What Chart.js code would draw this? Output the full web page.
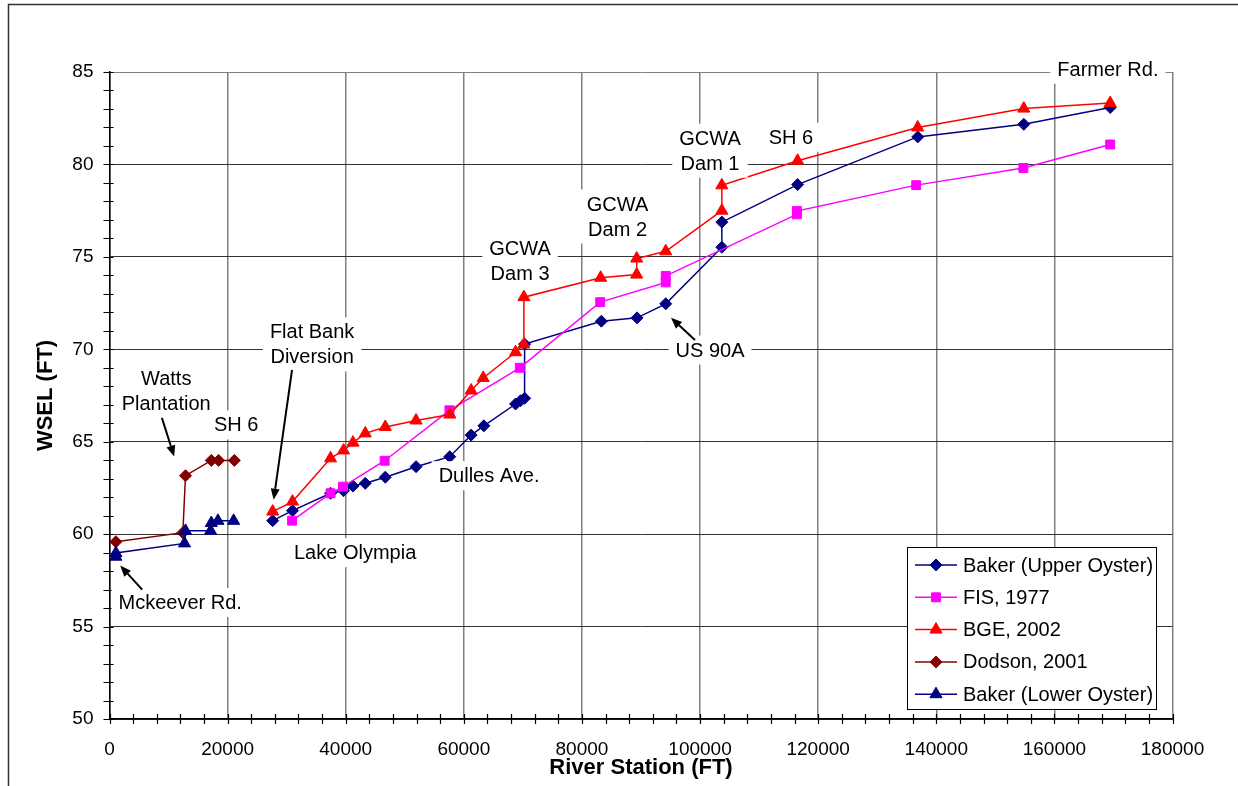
<!DOCTYPE html>
<html>
<head>
<meta charset="utf-8">
<script src="https://cdn.jsdelivr.net/npm/chart.js@4.4.0/dist/chart.umd.min.js"></script>
<style>
  html, body { margin: 0; padding: 0; background: #fff; }
  canvas { display: block; }
</style>
</head>
<body>
<canvas id="wsel" width="1238" height="786"></canvas>
<script>
// tick labels
const xTicks = [0, 20000, 40000, 60000, 80000, 100000, 120000, 140000, 160000, 180000];
const yTicks = [50, 55, 60, 65, 70, 75, 80, 85];

// Baker (Upper Oyster)
const bakerUpperX = [27630, 30990, 37430, 39630, 41230, 43310, 46700, 51910, 57610, 61240, 63390, 68760, 69610, 70290, 70290, 83290, 89330, 94190, 103690, 103690, 116520, 136860, 154820, 169450];
const bakerUpperY = [60.73, 61.27, 62.21, 62.35, 62.6, 62.75, 63.08, 63.65, 64.19, 65.36, 65.86, 67.04, 67.22, 67.35, 70.28, 71.52, 71.7, 72.46, 75.52, 76.88, 78.91, 81.49, 82.17, 83.08];

// FIS, 1977
const fisX = [30920, 37430, 39540, 46590, 57560, 69480, 83090, 94190, 94190, 116390, 116390, 136600, 154750, 169450];
const fisY = [60.73, 62.21, 62.57, 63.97, 66.7, 69.0, 72.55, 73.62, 73.97, 77.3, 77.48, 78.88, 79.81, 81.08];

// BGE, 2002
const bgeX = [27630, 30990, 37430, 39630, 41230, 43310, 46700, 51910, 57640, 61240, 63280, 68760, 70170, 70170, 83170, 89270, 89270, 94190, 103690, 103690, 116520, 136860, 154820, 169450];
const bgeY = [61.22, 61.76, 64.1, 64.53, 64.95, 65.45, 65.8, 66.15, 66.47, 67.77, 68.45, 69.84, 70.26, 72.82, 73.87, 74.04, 74.91, 75.3, 77.5, 78.87, 80.2, 82.0, 83.02, 83.32];

// Dodson, 2001
const dodsonX = [1080, 12420, 12870, 17240, 18480, 21140];
const dodsonY = [59.59, 60.08, 63.16, 63.99, 63.99, 63.99];

// Baker (Lower Oyster)
const lowerX = [1080, 1080, 12700, 12870, 17120, 17240, 18360, 21020];
const lowerY = [58.78, 58.98, 59.5, 60.18, 60.18, 60.6, 60.72, 60.72];

// text notes on the plot (data coordinates)
const notes = [
  { lines: ['Farmer Rd.'], x: 169060, y: 85.15 },
  { lines: ['GCWA', 'Dam 1'], x: 101690, y: 80.74 },
  { lines: ['SH 6'], x: 115380, y: 81.47 },
  { lines: ['GCWA', 'Dam 2'], x: 86030, y: 77.18 },
  { lines: ['GCWA', 'Dam 3'], x: 69520, y: 74.8 },
  { lines: ['Flat Bank', 'Diversion'], x: 34310, y: 70.26 },
  { lines: ['Watts', 'Plantation'], x: 9600, y: 67.72 },
  { lines: ['SH 6'], x: 21450, y: 65.91 },
  { lines: ['Mckeever Rd.'], x: 11970, y: 56.3 },
  { lines: ['Lake Olympia'], x: 41590, y: 59.0 },
  { lines: ['Dulles Ave.'], x: 64270, y: 63.16 },
  { lines: ['US 90A'], x: 101690, y: 69.96 }
];
const arrows = [
  { from: [30910, 68.89], to: [27800, 61.86] },
  { from: [8870, 66.29], to: [10950, 64.2] },
  { from: [5535, 57.0], to: [1810, 58.3] },
  { from: [99140, 70.5], to: [95080, 71.7] }
];

const FONT = 'Liberation Sans, Arial, Helvetica, sans-serif';
Chart.defaults.font.family = FONT;
Chart.defaults.color = '#000';

function pts(xs, ys) {
  return xs.map((x, i) => ({ x: x, y: ys[i] }));
}

function series(label, xs, ys, color, style, radius, order) {
  return {
    label: label,
    data: pts(xs, ys),
    showLine: true,
    borderColor: color,
    backgroundColor: color,
    borderWidth: 1.5,
    pointStyle: style,
    pointRadius: radius,
    pointHoverRadius: radius,
    pointBorderWidth: 1,
    order: order
  };
}

const extras = {
  id: 'extras',
  beforeDatasetsDraw(chart) {
    const c = chart.ctx, xs = chart.scales.x, ys = chart.scales.y;
    const a = chart.chartArea;
    c.save();
    c.strokeStyle = '#000';
    c.lineWidth = 1.2;
    c.beginPath();
    for (let v = 50; v <= 85; v += 1) {
      const py = Math.round(ys.getPixelForValue(v)) + 0.5;
      c.moveTo(a.left - 6, py); c.lineTo(a.left + 4, py);
    }
    for (let v = 0; v <= 180000; v += 4000) {
      const px = Math.round(xs.getPixelForValue(v)) + 0.5;
      c.moveTo(px, a.bottom - 5); c.lineTo(px, a.bottom + 5);
    }
    c.stroke();
    c.restore();
  },
  afterDraw(chart) {
    const c = chart.ctx, xs = chart.scales.x, ys = chart.scales.y;
    const a = chart.chartArea;
    c.save();

    // outer frame
    c.strokeStyle = '#333';
    c.lineWidth = 1.5;
    c.strokeRect(8.5, 4.5, 1400, 1000);

    // axis titles
    c.fillStyle = '#000';
    c.font = 'bold 22px ' + FONT;
    c.textAlign = 'center';
    c.textBaseline = 'middle';
    c.fillText('River Station (FT)', (a.left + a.right) / 2, 768);
    c.save();
    c.translate(46, (a.top + a.bottom) / 2);
    c.rotate(-Math.PI / 2);
    c.fillText('WSEL (FT)', 0, 0);
    c.restore();

    // notes with white boxes
    c.font = '20px ' + FONT;
    const lh = 25;
    notes.forEach(n => {
      const cx = xs.getPixelForValue(n.x), cy = ys.getPixelForValue(n.y);
      const w = Math.max(...n.lines.map(t => c.measureText(t).width)) + 14;
      const h = n.lines.length * lh + 4;
      c.fillStyle = '#fff';
      c.fillRect(cx - w / 2, cy - h / 2, w, h);
      c.fillStyle = '#000';
      n.lines.forEach((t, i) => {
        c.fillText(t, cx, cy - (n.lines.length - 1) * lh / 2 + i * lh + 1);
      });
    });

    // arrows
    c.strokeStyle = '#000';
    c.fillStyle = '#000';
    c.lineWidth = 2;
    arrows.forEach(ar => {
      const x0 = xs.getPixelForValue(ar.from[0]), y0 = ys.getPixelForValue(ar.from[1]);
      const x1 = xs.getPixelForValue(ar.to[0]), y1 = ys.getPixelForValue(ar.to[1]);
      const ang = Math.atan2(y1 - y0, x1 - x0);
      const L = 11, W = 4.5;
      const bx = x1 - L * Math.cos(ang), by = y1 - L * Math.sin(ang);
      c.beginPath();
      c.moveTo(x0, y0); c.lineTo(bx, by);
      c.stroke();
      c.beginPath();
      c.moveTo(x1, y1);
      c.lineTo(bx + W * Math.sin(ang), by - W * Math.cos(ang));
      c.lineTo(bx - W * Math.sin(ang), by + W * Math.cos(ang));
      c.closePath();
      c.fill();
    });

    // legend
    const lx = 907.5, ly = 547.5, lw = 249, lhh = 162;
    c.fillStyle = '#fff';
    c.fillRect(lx, ly, lw, lhh);
    c.strokeStyle = '#000';
    c.lineWidth = 1;
    c.strokeRect(lx, ly, lw, lhh);
    c.font = '20px ' + FONT;
    c.textAlign = 'left';
    c.textBaseline = 'middle';
    chart.data.datasets.forEach((ds, i) => {
      const y = 565 + i * 32.3;
      c.strokeStyle = ds.borderColor;
      c.lineWidth = 1.5;
      c.beginPath();
      c.moveTo(915, y); c.lineTo(957, y);
      c.stroke();
      c.fillStyle = ds.backgroundColor;
      c.lineWidth = 1;
      Chart.helpers.drawPoint(c, { pointStyle: ds.pointStyle, radius: ds.pointRadius, rotation: 0, borderWidth: 1 }, 936, y);
      c.fillStyle = '#000';
      c.fillText(ds.label, 963, y + 1);
    });
    c.restore();
  }
};

new Chart(document.getElementById('wsel'), {
  type: 'scatter',
  data: {
    datasets: [
      series('Baker (Upper Oyster)', bakerUpperX, bakerUpperY, '#000080', 'rectRot', 6, 5),
      series('FIS, 1977', fisX, fisY, '#FF00FF', 'rect', 6.3, 4),
      series('BGE, 2002', bgeX, bgeY, '#FF0000', 'triangle', 7, 3),
      series('Dodson, 2001', dodsonX, dodsonY, '#800000', 'rectRot', 6, 2),
      series('Baker (Lower Oyster)', lowerX, lowerY, '#000080', 'triangle', 7, 1)
    ]
  },
  options: {
    responsive: false,
    animation: false,
    devicePixelRatio: 1,
    layout: { padding: { left: 0, top: 72, right: 65.5, bottom: 0 } },
    plugins: { legend: { display: false }, tooltip: { enabled: false } },
    scales: {
      x: {
        type: 'linear',
        min: 0,
        max: 180000,
        afterBuildTicks: s => { s.ticks = xTicks.map(v => ({ value: v })); },
        afterFit: s => { s.height = 67; },
        ticks: { padding: 19, maxRotation: 0, autoSkip: false, font: { size: 19 }, callback: v => String(v) },
        grid: { color: '#808080', lineWidth: 1.5, drawTicks: false },
        border: { color: '#000', width: 1.5 }
      },
      y: {
        type: 'linear',
        min: 50,
        max: 85,
        afterBuildTicks: s => { s.ticks = yTicks.map(v => ({ value: v })); },
        afterFit: s => { s.width = 109.5; },
        ticks: { padding: 16, autoSkip: false, font: { size: 19 }, callback: v => String(v) },
        grid: { color: c => (c.tick && c.tick.value === 85 ? '#808080' : '#333'), lineWidth: 1, drawTicks: false },
        border: { color: '#000', width: 1.5 }
      }
    }
  },
  plugins: [extras]
});
</script>
</body>
</html>
